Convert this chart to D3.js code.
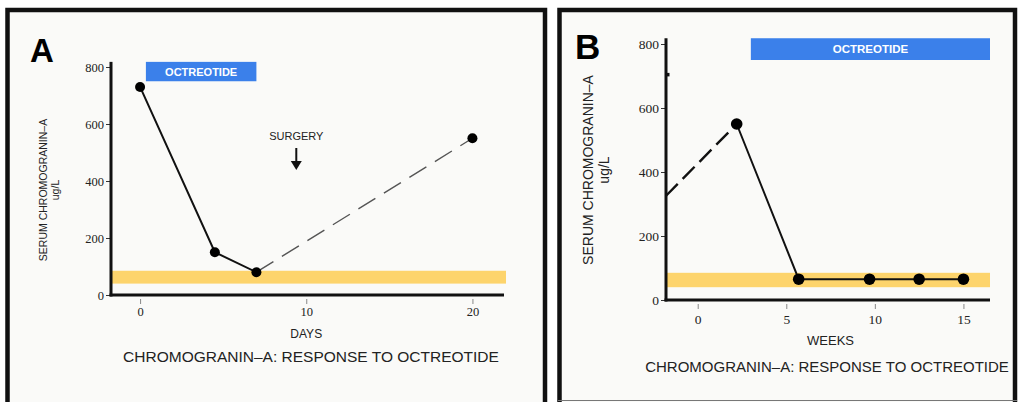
<!DOCTYPE html>
<html>
<head>
<meta charset="utf-8">
<script src="https://cdn.jsdelivr.net/npm/d3@7"></script>
<style>
  html, body { margin: 0; padding: 0; background: #ffffff; }
  svg { display: block; }
  .tick text { font-family: "Liberation Serif", "Times New Roman", serif; }
</style>
</head>
<body>
<svg id="chart" width="1019" height="402"></svg>
<script>
// ---------------- DATA ----------------
const yTicks = [0, 200, 400, 600, 800];

// Panel A (days)
const daysTicksA = [0, 10, 20];
const daysSolidA = [0, 4.5, 7];
const valuesSolidA = [730, 150, 80];
const daysDashedA = [7, 20];
const valuesDashedA = [80, 550];
const octreotideA = [0.35, 7];      // days
const surgeryDayA = 9.4;

// Panel B (weeks)
const weeksTicksB = [0, 5, 10, 15];
const weeksDashedB = [-1.8, 2.2];
const valuesDashedB = [325, 550];
const weeksSolidB = [2.2, 5.7, 9.7, 12.5, 15];
const valuesSolidB = [550, 65, 65, 65, 65];
const octreotideB = [3, 16.5];      // weeks
const strayMarkB = 705;             // small mark on the y axis

// shared
const normalRange = [40, 85];
const octreotideBandValues = [750, 818];
const titleText = "CHROMOGRANIN\u2013A: RESPONSE TO OCTREOTIDE";
const yLabel1 = "SERUM CHROMOGRANIN\u2013A";
const yLabel2 = "ug/L";

// ---------------- DRAW ----------------
const svg = d3.select("#chart");
const SANS = "Liberation Sans, Arial, sans-serif";
const SERIF = "Liberation Serif, Times New Roman, serif";
const BLUE = "#3b80ea";
const YELLOW = "#fdd46c";
const BG = "#fafaf8";

// frames
svg.append("rect").attr("x", 7.5).attr("y", 10).attr("width", 537.5).attr("height", 420)
  .attr("fill", BG).attr("stroke", "#111").attr("stroke-width", 4.5);
svg.append("rect").attr("x", 559.5).attr("y", 10).attr("width", 455.5).attr("height", 420)
  .attr("fill", BG).attr("stroke", "#111").attr("stroke-width", 4.5);
svg.append("line").attr("x1", 558).attr("x2", 1017).attr("y1", 400.5).attr("y2", 400.5)
  .attr("stroke", "#777").attr("stroke-width", 1.2);

function panel(cfg) {
  const g = svg.append("g");
  const x = d3.scaleLinear().domain(cfg.xDomain).range(cfg.xRange);
  const y = d3.scaleLinear().domain([0, 800]).range(cfg.yRange);
  const yTopVal = 818;

  // normal band
  g.append("rect")
    .attr("x", cfg.xRange[0]).attr("width", cfg.bandRight - cfg.xRange[0])
    .attr("y", y(normalRange[1])).attr("height", y(normalRange[0]) - y(normalRange[1]))
    .attr("fill", YELLOW);

  // octreotide box
  g.append("rect")
    .attr("x", x(cfg.oct[0])).attr("width", x(cfg.oct[1]) - x(cfg.oct[0]))
    .attr("y", y(octreotideBandValues[1])).attr("height", y(octreotideBandValues[0]) - y(octreotideBandValues[1]))
    .attr("fill", BLUE);
  g.append("text")
    .attr("x", (x(cfg.oct[0]) + x(cfg.oct[1])) / 2)
    .attr("y", (y(octreotideBandValues[0]) + y(octreotideBandValues[1])) / 2)
    .attr("dy", "0.36em").attr("text-anchor", "middle")
    .style("font-family", SANS).style("font-weight", "bold").style("font-size", cfg.octFont + "px")
    .attr("fill", "#ffffff").text("OCTREOTIDE");

  // y axis
  const yAxis = d3.axisLeft(y).tickValues(yTicks).tickSize(5).tickSizeOuter(0).tickPadding(2);
  const ya = g.append("g").attr("transform", `translate(${cfg.xRange[0]},0)`).call(yAxis);
  ya.attr("font-family", SERIF).attr("font-size", cfg.tickFont);
  ya.select(".domain").remove();
  ya.selectAll(".tick line").attr("stroke", "#333").attr("stroke-width", 1);
  ya.selectAll(".tick text").style("font-family", SERIF).style("font-size", cfg.tickFont + "px").attr("fill", "#222");
  g.append("line").attr("x1", cfg.xRange[0]).attr("x2", cfg.xRange[0])
    .attr("y1", y(yTopVal)).attr("y2", y(0) + 1.5)
    .attr("stroke", "#111").attr("stroke-width", 3);

  // x axis
  const xAxis = d3.axisBottom(x).tickValues(cfg.xTicks).tickSize(0).tickSizeOuter(0).tickPadding(cfg.xPad);
  const xa = g.append("g").attr("transform", `translate(0,${y(0)})`).call(xAxis);
  xa.attr("font-family", SERIF).attr("font-size", cfg.tickFont);
  xa.select(".domain").remove();
  xa.selectAll(".tick line").attr("y1", 4).attr("y2", 9).attr("stroke", "#888").attr("stroke-width", 1);
  xa.selectAll(".tick text").style("font-family", SERIF).style("font-size", cfg.tickFont + "px").attr("fill", "#222");
  g.append("line").attr("x1", cfg.xRange[0] - 1.5).attr("x2", cfg.xRange[1])
    .attr("y1", y(0)).attr("y2", y(0))
    .attr("stroke", "#111").attr("stroke-width", 3);

  // axis titles
  g.append("text").attr("x", (x(cfg.xTicks[0]) + x(cfg.xTicks[cfg.xTicks.length - 1])) / 2 + cfg.xLabelShift)
    .attr("y", cfg.xLabelY).attr("text-anchor", "middle")
    .style("font-family", SANS).style("font-size", cfg.xLabelFont + "px").attr("fill", "#222").text(cfg.xLabel);
  const yl = g.append("text").attr("transform", `translate(${cfg.yLabelX},${cfg.yLabelMid}) rotate(-90)`)
    .attr("text-anchor", "middle").style("font-family", SANS).style("font-size", cfg.yLabelFont + "px").attr("fill", "#222");
  yl.append("tspan").attr("x", 0).attr("y", 0).text(yLabel1);
  yl.append("tspan").attr("x", 0).attr("dy", "1.15em").text(yLabel2);

  // panel letter
  g.append("text").attr("x", cfg.letterX).attr("y", cfg.letterY)
    .style("font-family", SANS).style("font-weight", "bold").style("font-size", cfg.letterFont + "px")
    .attr("fill", "#000").text(cfg.letter);

  // caption
  g.append("text").attr("x", cfg.titleX).attr("y", cfg.titleY).attr("text-anchor", "middle")
    .style("font-family", SANS).style("font-size", cfg.titleFont + "px").attr("fill", "#222").text(titleText);

  return { g, x, y };
}

// ---- Panel A ----
const A = panel({
  xDomain: [-1.75, 21.9], xRange: [111, 504], yRange: [295, 67], bandRight: 506,
  oct: octreotideA, octFont: 11, tickFont: 12.5, xTicks: daysTicksA, xPad: 12,
  xLabel: "DAYS", xLabelY: 338, xLabelFont: 12, xLabelShift: 0,
  yLabelX: 47, yLabelMid: 190, yLabelFont: 10.5,
  letter: "A", letterX: 30, letterY: 62, letterFont: 33,
  titleX: 311, titleY: 362, titleFont: 15.5
});
{
  const { g, x, y } = A;
  const line = d3.line().x(d => x(d[0])).y(d => y(d[1]));
  g.append("path").datum(daysDashedA.map((d, i) => [d, valuesDashedA[i]]))
    .attr("d", line).attr("fill", "none").attr("stroke", "#555").attr("stroke-width", 1.4)
    .attr("stroke-dasharray", "20,10");
  g.append("path").datum(daysSolidA.map((d, i) => [d, valuesSolidA[i]]))
    .attr("d", line).attr("fill", "none").attr("stroke", "#111").attr("stroke-width", 2);
  const pts = daysSolidA.map((d, i) => [d, valuesSolidA[i]]).concat([[daysDashedA[1], valuesDashedA[1]]]);
  g.selectAll("circle.pt").data(pts).enter().append("circle")
    .attr("cx", d => x(d[0])).attr("cy", d => y(d[1])).attr("r", 5).attr("fill", "#000");
  // surgery annotation
  g.append("text").attr("x", x(surgeryDayA)).attr("y", 140).attr("text-anchor", "middle")
    .style("font-family", SANS).style("font-size", "11px").attr("fill", "#222").text("SURGERY");
  const ax = x(surgeryDayA);
  g.append("line").attr("x1", ax).attr("x2", ax).attr("y1", 148).attr("y2", 164)
    .attr("stroke", "#111").attr("stroke-width", 2);
  g.append("path").attr("d", `M${ax - 5.5},161 L${ax + 5.5},161 L${ax},170 Z`).attr("fill", "#111");
}

// ---- Panel B ----
const B = panel({
  xDomain: [-1.79, 16.5], xRange: [666, 990], yRange: [300, 44], bandRight: 990,
  oct: octreotideB, octFont: 11.5, tickFont: 13.5, xTicks: weeksTicksB, xPad: 14,
  xLabel: "WEEKS", xLabelY: 345, xLabelFont: 13, xLabelShift: 0,
  yLabelX: 593, yLabelMid: 170, yLabelFont: 14,
  letter: "B", letterX: 575, letterY: 59, letterFont: 35,
  titleX: 827, titleY: 372, titleFont: 15
});
{
  const { g, x, y } = B;
  const line = d3.line().x(d => x(d[0])).y(d => y(d[1]));
  g.append("path").datum(weeksDashedB.map((d, i) => [d, valuesDashedB[i]]))
    .attr("d", line).attr("fill", "none").attr("stroke", "#111").attr("stroke-width", 2.4)
    .attr("stroke-dasharray", "17,7");
  g.append("path").datum(weeksSolidB.map((d, i) => [d, valuesSolidB[i]]))
    .attr("d", line).attr("fill", "none").attr("stroke", "#111").attr("stroke-width", 2);
  g.selectAll("circle.pt").data(weeksSolidB.map((d, i) => [d, valuesSolidB[i]])).enter().append("circle")
    .attr("cx", d => x(d[0])).attr("cy", d => y(d[1])).attr("r", 5.8).attr("fill", "#000");
  g.append("rect").attr("x", x.range()[0]).attr("y", y(strayMarkB) - 1.5).attr("width", 3.5).attr("height", 3.5)
    .attr("fill", "#111");
}
</script>
</body>
</html>
